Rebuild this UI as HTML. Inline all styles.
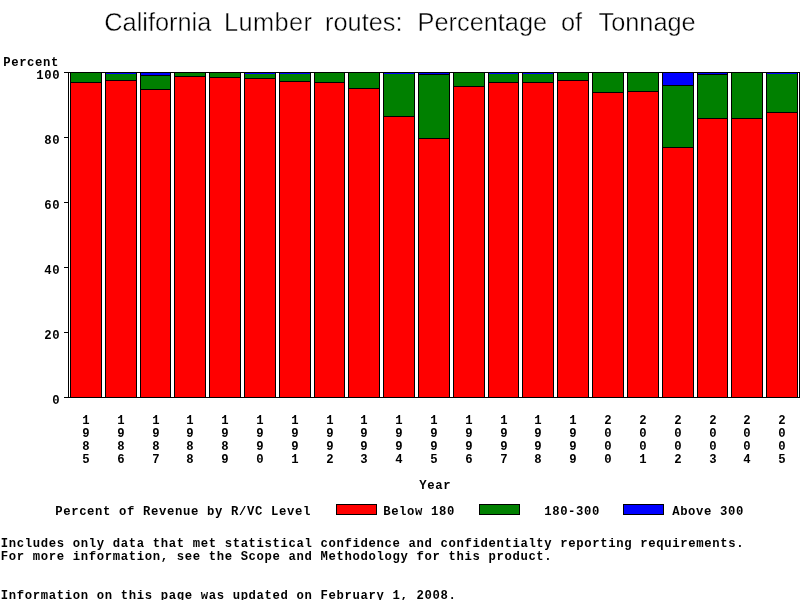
<!DOCTYPE html>
<html lang="en"><head><meta charset="utf-8"><title>California Lumber routes: Percentage of Tonnage</title>
<style>
html,body{margin:0;padding:0;background:#fff;overflow:hidden}
svg{display:block}
.m{font-family:"Liberation Mono","DejaVu Sans Mono",monospace;font-weight:bold;font-size:13.333px;letter-spacing:0.6957px;fill:#000;white-space:pre}
.t{font-family:"Liberation Sans","DejaVu Sans",sans-serif;font-size:26px;fill:#000;stroke:#fff;stroke-width:0.4px;white-space:pre}
</style></head><body>
<svg width="800" height="600" viewBox="0 0 800 600">
<rect width="800" height="600" fill="#fff"/>
<g shape-rendering="crispEdges">
<rect x="70" y="72" width="32" height="326" fill="#000"/>
<rect x="71" y="73" width="30" height="9" fill="#008000"/>
<rect x="71" y="83" width="30" height="314" fill="#ff0000"/>
<rect x="105" y="72" width="32" height="326" fill="#000"/>
<rect x="106" y="73" width="30" height="1" fill="#0000ff"/>
<rect x="106" y="74" width="30" height="6" fill="#008000"/>
<rect x="106" y="81" width="30" height="316" fill="#ff0000"/>
<rect x="140" y="72" width="31" height="326" fill="#000"/>
<rect x="141" y="73" width="29" height="2" fill="#0000ff"/>
<rect x="141" y="76" width="29" height="13" fill="#008000"/>
<rect x="141" y="90" width="29" height="307" fill="#ff0000"/>
<rect x="174" y="72" width="32" height="326" fill="#000"/>
<rect x="175" y="73" width="30" height="3" fill="#008000"/>
<rect x="175" y="77" width="30" height="320" fill="#ff0000"/>
<rect x="209" y="72" width="32" height="326" fill="#000"/>
<rect x="210" y="73" width="30" height="4" fill="#008000"/>
<rect x="210" y="78" width="30" height="319" fill="#ff0000"/>
<rect x="244" y="72" width="32" height="326" fill="#000"/>
<rect x="245" y="73" width="30" height="1" fill="#0000ff"/>
<rect x="245" y="74" width="30" height="4" fill="#008000"/>
<rect x="245" y="79" width="30" height="318" fill="#ff0000"/>
<rect x="279" y="72" width="32" height="326" fill="#000"/>
<rect x="280" y="73" width="30" height="1" fill="#0000ff"/>
<rect x="280" y="74" width="30" height="7" fill="#008000"/>
<rect x="280" y="82" width="30" height="315" fill="#ff0000"/>
<rect x="314" y="72" width="31" height="326" fill="#000"/>
<rect x="315" y="73" width="29" height="9" fill="#008000"/>
<rect x="315" y="83" width="29" height="314" fill="#ff0000"/>
<rect x="348" y="72" width="32" height="326" fill="#000"/>
<rect x="349" y="73" width="30" height="15" fill="#008000"/>
<rect x="349" y="89" width="30" height="308" fill="#ff0000"/>
<rect x="383" y="72" width="32" height="326" fill="#000"/>
<rect x="384" y="73" width="30" height="1" fill="#0000ff"/>
<rect x="384" y="74" width="30" height="42" fill="#008000"/>
<rect x="384" y="117" width="30" height="280" fill="#ff0000"/>
<rect x="418" y="72" width="32" height="326" fill="#000"/>
<rect x="419" y="73" width="30" height="1" fill="#0000ff"/>
<rect x="419" y="75" width="30" height="63" fill="#008000"/>
<rect x="419" y="139" width="30" height="258" fill="#ff0000"/>
<rect x="453" y="72" width="32" height="326" fill="#000"/>
<rect x="454" y="73" width="30" height="13" fill="#008000"/>
<rect x="454" y="87" width="30" height="310" fill="#ff0000"/>
<rect x="488" y="72" width="31" height="326" fill="#000"/>
<rect x="489" y="73" width="29" height="1" fill="#0000ff"/>
<rect x="489" y="74" width="29" height="8" fill="#008000"/>
<rect x="489" y="83" width="29" height="314" fill="#ff0000"/>
<rect x="522" y="72" width="32" height="326" fill="#000"/>
<rect x="523" y="73" width="30" height="1" fill="#0000ff"/>
<rect x="523" y="74" width="30" height="8" fill="#008000"/>
<rect x="523" y="83" width="30" height="314" fill="#ff0000"/>
<rect x="557" y="72" width="32" height="326" fill="#000"/>
<rect x="558" y="73" width="30" height="7" fill="#008000"/>
<rect x="558" y="81" width="30" height="316" fill="#ff0000"/>
<rect x="592" y="72" width="32" height="326" fill="#000"/>
<rect x="593" y="73" width="30" height="19" fill="#008000"/>
<rect x="593" y="93" width="30" height="304" fill="#ff0000"/>
<rect x="627" y="72" width="32" height="326" fill="#000"/>
<rect x="628" y="73" width="30" height="18" fill="#008000"/>
<rect x="628" y="92" width="30" height="305" fill="#ff0000"/>
<rect x="662" y="72" width="32" height="326" fill="#000"/>
<rect x="663" y="73" width="30" height="12" fill="#0000ff"/>
<rect x="663" y="86" width="30" height="61" fill="#008000"/>
<rect x="663" y="148" width="30" height="249" fill="#ff0000"/>
<rect x="697" y="72" width="31" height="326" fill="#000"/>
<rect x="698" y="73" width="29" height="1" fill="#0000ff"/>
<rect x="698" y="75" width="29" height="43" fill="#008000"/>
<rect x="698" y="119" width="29" height="278" fill="#ff0000"/>
<rect x="731" y="72" width="32" height="326" fill="#000"/>
<rect x="732" y="73" width="30" height="45" fill="#008000"/>
<rect x="732" y="119" width="30" height="278" fill="#ff0000"/>
<rect x="766" y="72" width="32" height="326" fill="#000"/>
<rect x="767" y="73" width="30" height="1" fill="#0000ff"/>
<rect x="767" y="74" width="30" height="38" fill="#008000"/>
<rect x="767" y="113" width="30" height="284" fill="#ff0000"/>
<rect x="68" y="72" width="732" height="1" fill="#000"/>
<rect x="68" y="397" width="732" height="1" fill="#000"/>
<rect x="68" y="72" width="1" height="326" fill="#000"/>
<rect x="799" y="72" width="1" height="326" fill="#000"/>
<rect x="64" y="72" width="4" height="1" fill="#000"/>
<rect x="64" y="137" width="4" height="1" fill="#000"/>
<rect x="64" y="202" width="4" height="1" fill="#000"/>
<rect x="64" y="267" width="4" height="1" fill="#000"/>
<rect x="64" y="332" width="4" height="1" fill="#000"/>
<rect x="64" y="397" width="4" height="1" fill="#000"/>
<rect x="336" y="504" width="41" height="11" fill="#000"/>
<rect x="337" y="505" width="39" height="9" fill="#ff0000"/>
<rect x="479" y="504" width="41" height="11" fill="#000"/>
<rect x="480" y="505" width="39" height="9" fill="#008000"/>
<rect x="623" y="504" width="41" height="11" fill="#000"/>
<rect x="624" y="505" width="39" height="9" fill="#0000ff"/>
</g>
<g>
<text class="m" transform="scale(0.92 1)" x="3.424" y="66">Percent</text>
<text class="m" transform="scale(0.92 1)" x="39.293" y="79">100</text>
<text class="m" transform="scale(0.92 1)" x="47.989" y="144">80</text>
<text class="m" transform="scale(0.92 1)" x="47.989" y="209">60</text>
<text class="m" transform="scale(0.92 1)" x="47.989" y="274">40</text>
<text class="m" transform="scale(0.92 1)" x="47.989" y="339">20</text>
<text class="m" transform="scale(0.92 1)" x="56.685" y="404">0</text>
<text class="m" transform="scale(0.92 1)" x="89.293" y="424">1</text>
<text class="m" transform="scale(0.92 1)" x="89.293" y="437">9</text>
<text class="m" transform="scale(0.92 1)" x="89.293" y="450">8</text>
<text class="m" transform="scale(0.92 1)" x="89.293" y="463">5</text>
<text class="m" transform="scale(0.92 1)" x="127.337" y="424">1</text>
<text class="m" transform="scale(0.92 1)" x="127.337" y="437">9</text>
<text class="m" transform="scale(0.92 1)" x="127.337" y="450">8</text>
<text class="m" transform="scale(0.92 1)" x="127.337" y="463">6</text>
<text class="m" transform="scale(0.92 1)" x="165.380" y="424">1</text>
<text class="m" transform="scale(0.92 1)" x="165.380" y="437">9</text>
<text class="m" transform="scale(0.92 1)" x="165.380" y="450">8</text>
<text class="m" transform="scale(0.92 1)" x="165.380" y="463">7</text>
<text class="m" transform="scale(0.92 1)" x="202.337" y="424">1</text>
<text class="m" transform="scale(0.92 1)" x="202.337" y="437">9</text>
<text class="m" transform="scale(0.92 1)" x="202.337" y="450">8</text>
<text class="m" transform="scale(0.92 1)" x="202.337" y="463">8</text>
<text class="m" transform="scale(0.92 1)" x="240.380" y="424">1</text>
<text class="m" transform="scale(0.92 1)" x="240.380" y="437">9</text>
<text class="m" transform="scale(0.92 1)" x="240.380" y="450">8</text>
<text class="m" transform="scale(0.92 1)" x="240.380" y="463">9</text>
<text class="m" transform="scale(0.92 1)" x="278.424" y="424">1</text>
<text class="m" transform="scale(0.92 1)" x="278.424" y="437">9</text>
<text class="m" transform="scale(0.92 1)" x="278.424" y="450">9</text>
<text class="m" transform="scale(0.92 1)" x="278.424" y="463">0</text>
<text class="m" transform="scale(0.92 1)" x="316.467" y="424">1</text>
<text class="m" transform="scale(0.92 1)" x="316.467" y="437">9</text>
<text class="m" transform="scale(0.92 1)" x="316.467" y="450">9</text>
<text class="m" transform="scale(0.92 1)" x="316.467" y="463">1</text>
<text class="m" transform="scale(0.92 1)" x="354.511" y="424">1</text>
<text class="m" transform="scale(0.92 1)" x="354.511" y="437">9</text>
<text class="m" transform="scale(0.92 1)" x="354.511" y="450">9</text>
<text class="m" transform="scale(0.92 1)" x="354.511" y="463">2</text>
<text class="m" transform="scale(0.92 1)" x="391.467" y="424">1</text>
<text class="m" transform="scale(0.92 1)" x="391.467" y="437">9</text>
<text class="m" transform="scale(0.92 1)" x="391.467" y="450">9</text>
<text class="m" transform="scale(0.92 1)" x="391.467" y="463">3</text>
<text class="m" transform="scale(0.92 1)" x="429.511" y="424">1</text>
<text class="m" transform="scale(0.92 1)" x="429.511" y="437">9</text>
<text class="m" transform="scale(0.92 1)" x="429.511" y="450">9</text>
<text class="m" transform="scale(0.92 1)" x="429.511" y="463">4</text>
<text class="m" transform="scale(0.92 1)" x="467.554" y="424">1</text>
<text class="m" transform="scale(0.92 1)" x="467.554" y="437">9</text>
<text class="m" transform="scale(0.92 1)" x="467.554" y="450">9</text>
<text class="m" transform="scale(0.92 1)" x="467.554" y="463">5</text>
<text class="m" transform="scale(0.92 1)" x="505.598" y="424">1</text>
<text class="m" transform="scale(0.92 1)" x="505.598" y="437">9</text>
<text class="m" transform="scale(0.92 1)" x="505.598" y="450">9</text>
<text class="m" transform="scale(0.92 1)" x="505.598" y="463">6</text>
<text class="m" transform="scale(0.92 1)" x="543.641" y="424">1</text>
<text class="m" transform="scale(0.92 1)" x="543.641" y="437">9</text>
<text class="m" transform="scale(0.92 1)" x="543.641" y="450">9</text>
<text class="m" transform="scale(0.92 1)" x="543.641" y="463">7</text>
<text class="m" transform="scale(0.92 1)" x="580.598" y="424">1</text>
<text class="m" transform="scale(0.92 1)" x="580.598" y="437">9</text>
<text class="m" transform="scale(0.92 1)" x="580.598" y="450">9</text>
<text class="m" transform="scale(0.92 1)" x="580.598" y="463">8</text>
<text class="m" transform="scale(0.92 1)" x="618.641" y="424">1</text>
<text class="m" transform="scale(0.92 1)" x="618.641" y="437">9</text>
<text class="m" transform="scale(0.92 1)" x="618.641" y="450">9</text>
<text class="m" transform="scale(0.92 1)" x="618.641" y="463">9</text>
<text class="m" transform="scale(0.92 1)" x="656.685" y="424">2</text>
<text class="m" transform="scale(0.92 1)" x="656.685" y="437">0</text>
<text class="m" transform="scale(0.92 1)" x="656.685" y="450">0</text>
<text class="m" transform="scale(0.92 1)" x="656.685" y="463">0</text>
<text class="m" transform="scale(0.92 1)" x="694.728" y="424">2</text>
<text class="m" transform="scale(0.92 1)" x="694.728" y="437">0</text>
<text class="m" transform="scale(0.92 1)" x="694.728" y="450">0</text>
<text class="m" transform="scale(0.92 1)" x="694.728" y="463">1</text>
<text class="m" transform="scale(0.92 1)" x="732.772" y="424">2</text>
<text class="m" transform="scale(0.92 1)" x="732.772" y="437">0</text>
<text class="m" transform="scale(0.92 1)" x="732.772" y="450">0</text>
<text class="m" transform="scale(0.92 1)" x="732.772" y="463">2</text>
<text class="m" transform="scale(0.92 1)" x="770.815" y="424">2</text>
<text class="m" transform="scale(0.92 1)" x="770.815" y="437">0</text>
<text class="m" transform="scale(0.92 1)" x="770.815" y="450">0</text>
<text class="m" transform="scale(0.92 1)" x="770.815" y="463">3</text>
<text class="m" transform="scale(0.92 1)" x="807.772" y="424">2</text>
<text class="m" transform="scale(0.92 1)" x="807.772" y="437">0</text>
<text class="m" transform="scale(0.92 1)" x="807.772" y="450">0</text>
<text class="m" transform="scale(0.92 1)" x="807.772" y="463">4</text>
<text class="m" transform="scale(0.92 1)" x="845.815" y="424">2</text>
<text class="m" transform="scale(0.92 1)" x="845.815" y="437">0</text>
<text class="m" transform="scale(0.92 1)" x="845.815" y="450">0</text>
<text class="m" transform="scale(0.92 1)" x="845.815" y="463">5</text>
<text class="m" transform="scale(0.92 1)" x="455.598" y="489">Year</text>
<text class="m" transform="scale(0.92 1)" x="59.946" y="515">Percent of Revenue by R/VC Level</text>
<text class="m" transform="scale(0.92 1)" x="416.467" y="515">Below 180</text>
<text class="m" transform="scale(0.92 1)" x="591.467" y="515">180-300</text>
<text class="m" transform="scale(0.92 1)" x="730.598" y="515">Above 300</text>
<text class="m" transform="scale(0.92 1)" x="0.924" y="547">Includes only data that met statistical confidence and confidentialty reporting requirements.</text>
<text class="m" transform="scale(0.92 1)" x="0.924" y="560">For more information, see the Scope and Methodology for this product.</text>
<text class="m" transform="scale(0.92 1)" x="0.924" y="599">Information on this page was updated on February 1, 2008.</text>
<text class="t" y="30.6" transform="scale(0.975 1)"><tspan x="107.00">California</tspan> <tspan x="229.79" style="letter-spacing:0.4px">Lumber</tspan> <tspan x="333.38">routes:</tspan> <tspan x="428.26">Percentage</tspan> <tspan x="575.41">of</tspan> <tspan x="613.87">Tonnage</tspan></text>
</g>
</svg>
</body></html>
